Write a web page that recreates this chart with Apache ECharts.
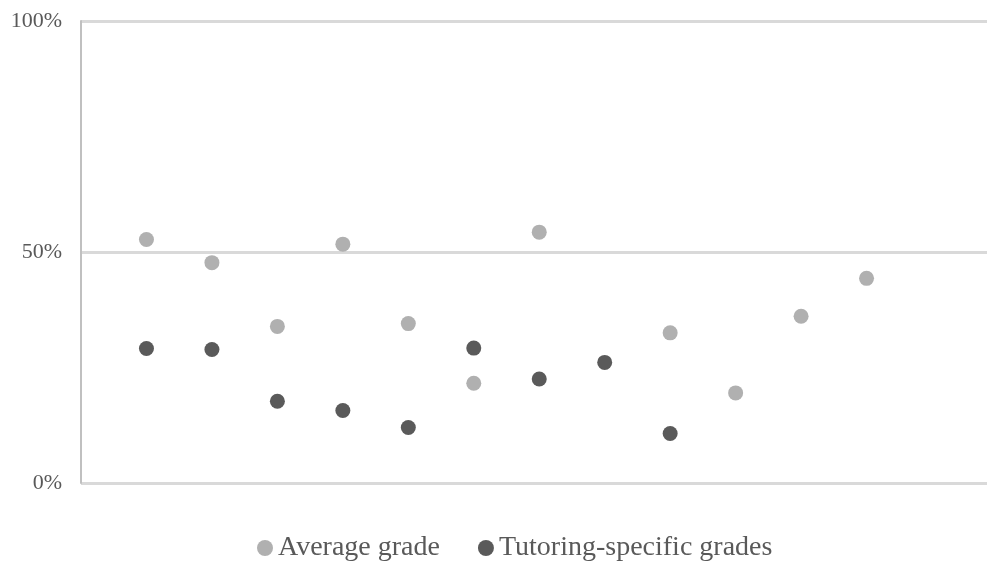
<!DOCTYPE html>
<html>
<head>
<meta charset="utf-8">
<script src="https://cdn.jsdelivr.net/npm/echarts@6/dist/echarts.min.js"></script>
<style>
  html, body { margin: 0; padding: 0; background: #ffffff; }
  #chart { width: 987px; height: 561px; }
</style>
</head>
<body>
<div id="chart"></div>
<script>
// Position of each group along the horizontal axis
const groups = [1, 2, 3, 4, 5, 6, 7, 8, 9, 10, 11, 12];
// Share of the maximum grade, per group (null = no point)
const averageGrade = [52.7, 47.7, 33.9, 51.7, 34.5, 21.6, 54.3, null, 32.5, 19.5, 36.1, 44.3];
const tutoringGrades = [29.1, 28.9, 17.7, 15.7, 12.0, 29.2, 22.5, 26.1, 10.7, null, null, null];
const yTicks = [0, 50, 100];

function toPoints(values) {
  const pts = [];
  values.forEach((v, i) => {
    if (v !== null) pts.push([groups[i], v]);
  });
  return pts;
}

const serif = '"Liberation Serif", "Times New Roman", serif';
const chart = echarts.init(document.getElementById('chart'), null, { renderer: 'canvas' });

chart.setOption({
  animation: false,
  backgroundColor: '#ffffff',
  grid: { left: 81, right: 0, top: 21, bottom: 78, containLabel: false },
  legend: {
    left: 257,
    top: 534,
    padding: 0,
    icon: 'circle',
    itemWidth: 16,
    itemHeight: 16,
    itemGap: 38,
    textStyle: { fontFamily: serif, fontSize: 28, color: '#595959' },
    data: ['Average grade', 'Tutoring-specific grades']
  },
  xAxis: {
    type: 'value',
    min: 0,
    max: 13.84,
    axisLine: { show: false },
    axisTick: { show: false },
    axisLabel: { show: false },
    splitLine: { show: false }
  },
  yAxis: {
    type: 'value',
    min: yTicks[0],
    max: yTicks[yTicks.length - 1],
    interval: 50,
    axisLine: { show: true, lineStyle: { color: '#c0c0c0', width: 2 } },
    axisTick: { show: false },
    axisLabel: {
      margin: 19,
      padding: [3, 0, 0, 0],
      fontFamily: serif,
      fontSize: 22,
      color: '#595959',
      formatter: v => v + '%'
    },
    splitLine: { show: true, lineStyle: { color: '#d9d9d9', width: 3 } }
  },
  series: [
    {
      name: 'Average grade',
      type: 'scatter',
      symbol: 'circle',
      symbolSize: 15,
      itemStyle: { color: '#b0b0b0', opacity: 1 },
      data: toPoints(averageGrade)
    },
    {
      name: 'Tutoring-specific grades',
      type: 'scatter',
      symbol: 'circle',
      symbolSize: 15,
      itemStyle: { color: '#5a5a5a', opacity: 1 },
      data: toPoints(tutoringGrades)
    }
  ]
});
</script>
</body>
</html>
